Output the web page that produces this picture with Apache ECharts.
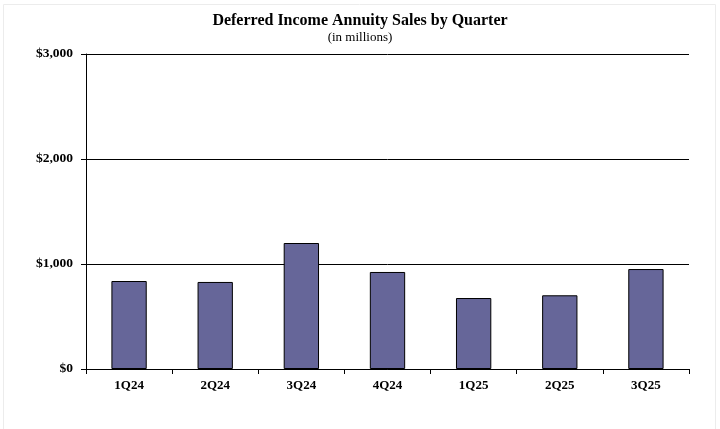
<!DOCTYPE html>
<html><head><meta charset="utf-8">
<script src="https://cdn.jsdelivr.net/npm/echarts@6/dist/echarts.min.js"></script>
<style>html,body{margin:0;padding:0;background:#fff}#c{width:720px;height:429px}</style>
</head><body><div id="c"></div>
<script>
const categories = ['1Q24','2Q24','3Q24','4Q24','1Q25','2Q25','3Q25'];
const sales = [838, 829, 1200, 924, 676, 702, 952];
const yTicks = [0, 1000, 2000, 3000];

const chart = echarts.init(document.getElementById('c'));
const font = '"Liberation Serif", "Times New Roman", serif';
chart.setOption({
  animation: false,
  title: {
    text: 'Deferred Income Annuity Sales by Quarter',
    subtext: '(in millions)',
    left: 'center', top: 8, itemGap: 2,
    textStyle: {fontFamily: font, fontWeight: 'bold', fontSize: 16, color: '#000'},
    subtextStyle: {fontFamily: font, fontSize: 13, color: '#000'}
  },
  graphic: [{
    type: 'rect', left: 1, top: 2, silent: true,
    shape: {width: 712, height: 425},
    style: {fill: 'none', stroke: '#ececec', lineWidth: 1}
  }],
  grid: {left: 86, right: 31, top: 54, bottom: 60, containLabel: false},
  xAxis: {
    type: 'category', data: categories,
    axisLine: {lineStyle: {color: '#000', width: 1}},
    axisTick: {show: true, alignWithLabel: false, length: 5, lineStyle: {color: '#000'}},
    axisLabel: {fontFamily: font, fontWeight: 'bold', fontSize: 13, color: '#000', margin: 10}
  },
  yAxis: {
    type: 'value', min: yTicks[0], max: yTicks[yTicks.length-1], interval: 1000,
    axisLine: {show: true, lineStyle: {color: '#000', width: 1}},
    axisTick: {show: true, length: 5, lineStyle: {color: '#000'}},
    splitLine: {show: true, lineStyle: {color: '#000', width: 1}},
    axisLabel: {fontFamily: font, fontWeight: 'bold', fontSize: 13.5, color: '#000', margin: 13,
      formatter: v => '$' + v.toLocaleString('en-US')}
  },
  series: [{
    type: 'bar', data: sales, barWidth: '41%',
    itemStyle: {color: '#666699', borderColor: '#000', borderWidth: 1}
  }]
});
</script></body></html>
